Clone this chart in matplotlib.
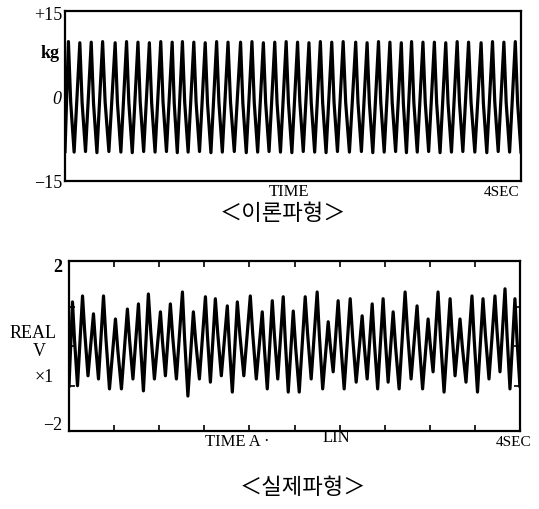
import numpy as np
import matplotlib
matplotlib.use("Agg")
from matplotlib import pyplot as plt

plt.rcParams['font.family'] = ['Liberation Serif', 'DejaVu Serif']

# upper trace: theoretical waveform (kg), peak times in sec, extremes per cycle
top_peak_t = [0.03, 0.13, 0.23, 0.33, 0.44, 0.54, 0.64, 0.74, 0.84, 0.94,
              1.03, 1.13, 1.23, 1.33, 1.43, 1.54, 1.64, 1.74, 1.84, 1.94,
              2.04, 2.14, 2.24, 2.34, 2.44, 2.55, 2.65, 2.75, 2.85, 2.95,
              3.04, 3.14, 3.24, 3.34, 3.44, 3.54, 3.65, 3.75, 3.85, 3.95]
top_peaks = [9.6, 9.4, 9.5, 9.6, 9.4, 9.6, 9.5, 9.4, 9.6, 9.5,
             9.6, 9.5, 9.4, 9.6, 9.5, 9.5, 9.6, 9.4, 9.5, 9.6,
             9.5, 9.4, 9.6, 9.5, 9.6, 9.5, 9.4, 9.6, 9.5, 9.4,
             9.6, 9.5, 9.5, 9.4, 9.6, 9.5, 9.4, 9.6, 9.5, 9.6]
top_troughs = [-9.9, -9.8, -10.0, -9.8, -9.9, -10.0, -9.8, -9.9, -9.8, -10.0,
               -9.9, -9.8, -10.0, -9.9, -9.8, -10.0, -9.9, -9.8, -9.9, -10.0,
               -9.8, -9.9, -10.0, -9.8, -9.9, -9.8, -10.0, -9.9, -9.8, -10.0,
               -9.9, -9.8, -10.0, -9.9, -9.8, -9.9, -10.0, -9.8, -9.9, -9.9]
top_start = -9.8

# lower trace: measured waveform (V x1)
bot_peak_t = [0.031, 0.120, 0.217, 0.306, 0.412, 0.518, 0.616, 0.704, 0.811, 0.899,
              1.006, 1.103, 1.210, 1.298, 1.404, 1.493, 1.608, 1.714, 1.803, 1.900,
              1.989, 2.095, 2.201, 2.299, 2.387, 2.494, 2.600, 2.689, 2.786, 2.875,
              2.981, 3.087, 3.185, 3.273, 3.380, 3.468, 3.574, 3.672, 3.778, 3.867, 3.955]
bot_peaks = [1.12, 1.27, 0.82, 1.27, 0.69, 0.94, 1.07, 1.32, 0.87, 1.07,
             1.37, 0.87, 1.25, 1.20, 1.02, 1.12, 1.27, 0.87, 1.15, 1.25,
             0.89, 1.25, 1.37, 0.62, 1.15, 1.20, 0.77, 1.07, 1.20, 0.87,
             1.37, 1.02, 0.69, 1.37, 1.20, 0.69, 1.27, 1.20, 1.27, 1.45, 1.20]
bot_troughs = [-0.99, -0.74, -0.82, -1.07, -1.07, -0.82, -1.12, -0.82, -0.74, -0.82,
               -1.25, -0.82, -0.90, -0.74, -1.15, -0.74, -0.82, -1.07, -0.82, -1.15,
               -1.15, -0.82, -1.07, -0.64, -1.07, -0.90, -0.82, -1.07, -0.90, -1.07,
               -0.82, -1.07, -0.64, -1.15, -0.74, -0.90, -1.15, -0.82, -0.64, -1.07, -1.00]
bot_start = -1.0


def build_trace(peak_t, peaks, troughs, start, shoulder=0.45):
    # join each cycle: rise to peak, kink on the way down, then trough
    t, v = [0.0], [start]
    for i, (tp, pk, tr) in enumerate(zip(peak_t, peaks, troughs)):
        dt = (peak_t[i + 1] - tp) if i + 1 < len(peak_t) else (tp - peak_t[i - 1])
        t += [tp, tp + 0.2 * dt, tp + 0.5 * dt]
        v += [pk, tr + (pk - tr) * shoulder, tr]
    return np.array(t), np.array(v)


W, H = 539, 510
fig = plt.figure(figsize=(W / 100, H / 100), dpi=100)


def px(x, y):
    return x / W, 1 - y / H


# upper chart
ax1 = fig.add_axes([65 / W, 1 - 182 / H, 456 / W, 170 / H])
t1, v1 = build_trace(top_peak_t, top_peaks, top_troughs, top_start)
ax1.plot(t1, v1, color='black', lw=2.3)
ax1.set_xlim(0, 4)
ax1.set_ylim(-15, 15)
ax1.set_xticks([])
ax1.set_yticks([])
for s in ax1.spines.values():
    s.set_linewidth(1.6)

# lower chart
ax2 = fig.add_axes([69 / W, 1 - 432 / H, 451 / W, 170 / H])
t2, v2 = build_trace(bot_peak_t, bot_peaks, bot_troughs, bot_start, shoulder=0.55)
ax2.plot(t2, v2, color='black', lw=2.3)
ax2.set_xlim(0, 4)
ax2.set_ylim(-2.13, 2.15)
ax2.set_xticks(np.linspace(0, 4, 11))
ax2.set_yticks([-1, 0, 1])
ax2.tick_params(direction='in', top=True, right=True, length=4, width=1.2,
                labelbottom=False, labelleft=False)
for s in ax2.spines.values():
    s.set_linewidth(1.6)

fs = 13
fig.text(*px(62, 15), '+15', ha='right', va='center', fontsize=fs)
fig.text(*px(60, 53), 'kg', ha='right', va='center', fontsize=fs, weight='bold')
fig.text(*px(61, 100), '0', ha='right', va='center', fontsize=fs, style='italic')
fig.text(*px(62, 183), '\u221215', ha='right', va='center', fontsize=fs)
fig.text(*px(289, 192), 'TIME', ha='center', va='center', fontsize=12)
fig.text(*px(502, 192), '4SEC', ha='center', va='center', fontsize=11)
fig.text(*px(283, 214), '\uff1c이론파형\uff1e', ha='center', va='center', fontsize=16,
         family=['Noto Sans CJK KR', 'DejaVu Sans'])

fig.text(*px(62, 268), '2', ha='right', va='center', fontsize=fs, weight='bold')
fig.text(*px(33, 333), 'REAL', ha='center', va='center', fontsize=fs)
fig.text(*px(39, 351), 'V', ha='center', va='center', fontsize=fs)
fig.text(*px(44, 377), '\u00d71', ha='center', va='center', fontsize=fs)
fig.text(*px(62, 426), '\u22122', ha='right', va='center', fontsize=fs)
fig.text(*px(237, 442), 'TIME A \u00b7', ha='center', va='center', fontsize=12)
fig.text(*px(336, 438), 'LIN', ha='center', va='center', fontsize=12)
fig.text(*px(514, 442), '4SEC', ha='center', va='center', fontsize=11)
fig.text(*px(303, 488), '\uff1c실제파형\uff1e', ha='center', va='center', fontsize=16,
         family=['Noto Sans CJK KR', 'DejaVu Sans'])

fig.savefig('out.png', dpi=100)
